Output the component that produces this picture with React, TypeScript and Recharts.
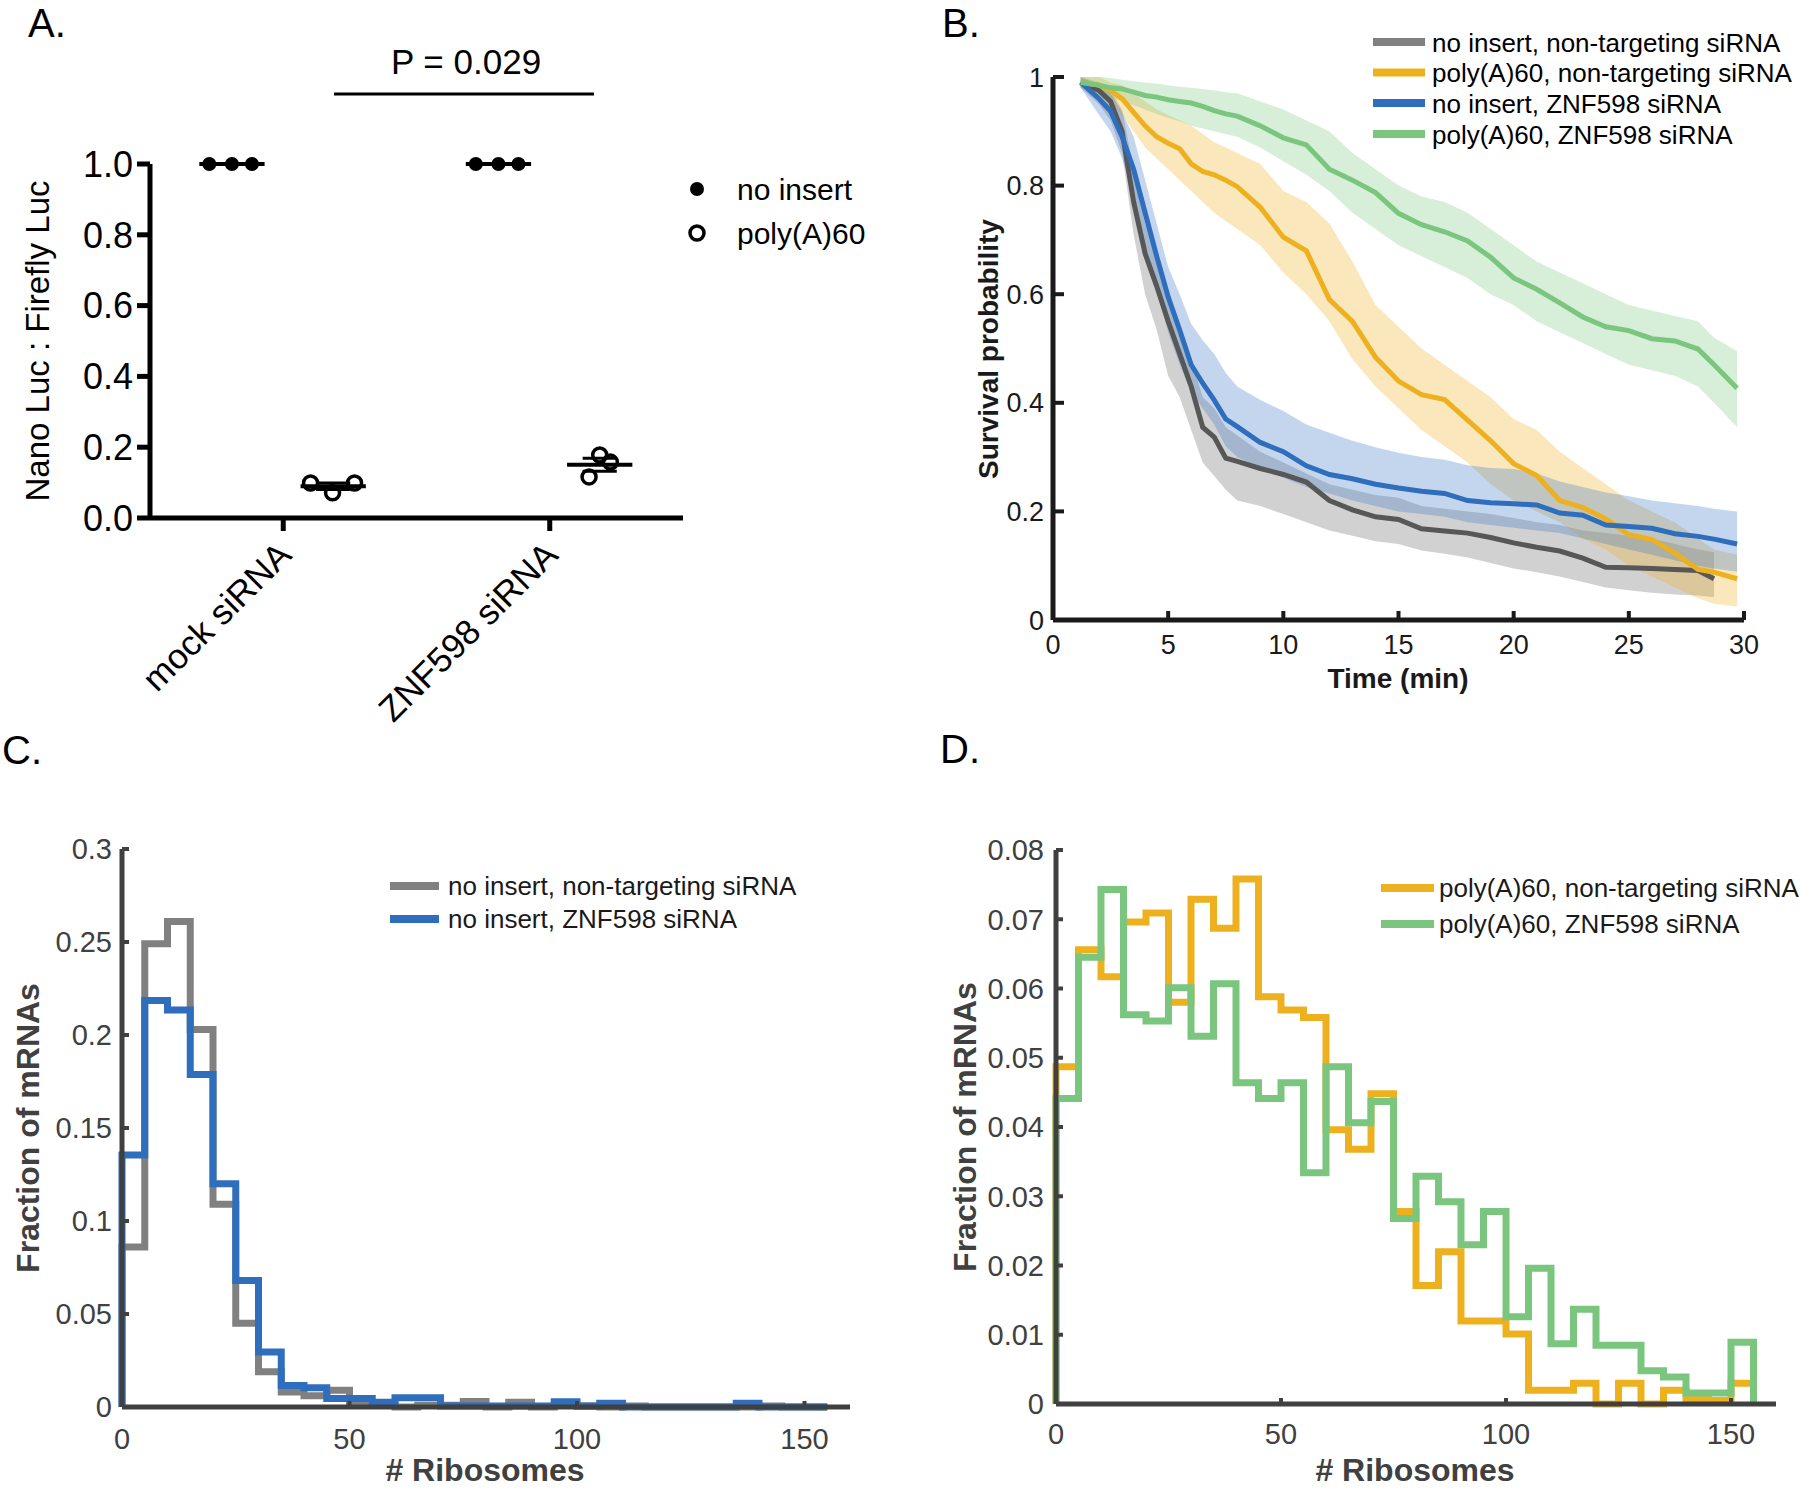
import React from "react";
import {
  ComposedChart,
  Line,
  Area,
  Scatter,
  XAxis,
  YAxis,
  ReferenceLine,
} from "recharts";

// ---------- panel A: luciferase ratio, 3 replicates per condition
const siRNAs = ["mock siRNA", "ZNF598 siRNA"];
const noInsertRatio = [
  [1.0, 1.0, 1.0],
  [1.0, 1.0, 1.0],
];
const polyARatio = [
  [0.099, 0.071, 0.099],
  [0.116, 0.178, 0.158],
];
const pValueText = "P = 0.029";
const ratioTicks = [0, 0.2, 0.4, 0.6, 0.8, 1.0];

// ---------- panel B: survival curves with confidence bands
const timeMin = [1.2, 2, 2.5, 3, 3.5, 4, 4.5, 5, 5.5, 6, 6.5, 7, 7.5, 8, 9, 10, 11, 12, 13, 14, 15, 16, 17, 18, 19, 20, 21, 22, 23, 24, 25, 26, 27, 28, 28.7, 29.7];

const greySurv = [0.99, 0.975, 0.955, 0.9, 0.77, 0.675, 0.615, 0.55, 0.49, 0.43, 0.355, 0.337, 0.298, 0.292, 0.279, 0.268, 0.254, 0.22, 0.203, 0.19, 0.185, 0.168, 0.164, 0.16, 0.152, 0.142, 0.134, 0.127, 0.114, 0.097, 0.096, 0.095, 0.093, 0.091, 0.076, null];
const greyLow = [0.98, 0.95, 0.92, 0.86, 0.71, 0.6, 0.535, 0.45, 0.41, 0.35, 0.29, 0.265, 0.24, 0.22, 0.21, 0.195, 0.18, 0.165, 0.155, 0.145, 0.14, 0.128, 0.122, 0.115, 0.105, 0.095, 0.088, 0.08, 0.07, 0.06, 0.055, 0.05, 0.047, 0.045, 0.042, null];
const greyHigh = [1.0, 0.99, 0.975, 0.94, 0.83, 0.73, 0.67, 0.6, 0.54, 0.48, 0.41, 0.39, 0.355, 0.34, 0.31, 0.29, 0.27, 0.25, 0.24, 0.23, 0.225, 0.21, 0.205, 0.2, 0.195, 0.188, 0.18, 0.175, 0.165, 0.16, 0.155, 0.15, 0.14, 0.13, 0.125, null];

const orangeSurv = [0.99, 0.985, 0.975, 0.96, 0.935, 0.91, 0.89, 0.878, 0.868, 0.84, 0.826, 0.82, 0.81, 0.798, 0.76, 0.705, 0.68, 0.59, 0.55, 0.484, 0.44, 0.415, 0.406, 0.368, 0.33, 0.288, 0.266, 0.22, 0.207, 0.186, 0.157, 0.148, 0.123, 0.093, 0.088, 0.076];
const orangeLow = [0.98, 0.97, 0.955, 0.93, 0.9, 0.87, 0.85, 0.83, 0.81, 0.79, 0.77, 0.75, 0.735, 0.72, 0.69, 0.64, 0.6, 0.55, 0.48, 0.43, 0.39, 0.35, 0.32, 0.29, 0.25, 0.22, 0.2, 0.18, 0.15, 0.13, 0.1, 0.08, 0.06, 0.04, 0.03, 0.025];
const orangeHigh = [1.0, 1.0, 0.99, 0.985, 0.97, 0.955, 0.94, 0.93, 0.92, 0.91, 0.895, 0.88, 0.87, 0.86, 0.84, 0.79, 0.77, 0.73, 0.66, 0.58, 0.54, 0.5, 0.47, 0.44, 0.41, 0.37, 0.35, 0.31, 0.28, 0.25, 0.22, 0.2, 0.18, 0.15, 0.13, 0.12];

const blueSurv = [0.99, 0.96, 0.937, 0.89, 0.83, 0.75, 0.67, 0.595, 0.534, 0.47, 0.436, 0.405, 0.37, 0.356, 0.327, 0.31, 0.284, 0.268, 0.26, 0.25, 0.243, 0.237, 0.233, 0.22, 0.216, 0.214, 0.212, 0.197, 0.193, 0.175, 0.172, 0.169, 0.159, 0.154, 0.149, 0.14];
const blueLow = [0.98, 0.93, 0.9, 0.85, 0.78, 0.69, 0.61, 0.53, 0.47, 0.42, 0.39, 0.36, 0.32, 0.3, 0.28, 0.262, 0.245, 0.233, 0.22, 0.21, 0.2, 0.195, 0.19, 0.18, 0.175, 0.17, 0.165, 0.16, 0.15, 0.14, 0.13, 0.12, 0.11, 0.1, 0.095, 0.089];
const blueHigh = [1.0, 0.985, 0.97, 0.935, 0.89, 0.81, 0.73, 0.65, 0.6, 0.545, 0.515, 0.49, 0.455, 0.43, 0.405, 0.385, 0.36, 0.345, 0.33, 0.318, 0.308, 0.3, 0.295, 0.285, 0.28, 0.278, 0.27, 0.255, 0.245, 0.235, 0.228, 0.22, 0.215, 0.21, 0.205, 0.2];

const greenSurv = [0.99, 0.985, 0.98, 0.978, 0.972, 0.966, 0.963, 0.958, 0.955, 0.952, 0.946, 0.938, 0.932, 0.928, 0.91, 0.888, 0.875, 0.83, 0.81, 0.787, 0.749, 0.728, 0.715, 0.698, 0.668, 0.63, 0.609, 0.584, 0.558, 0.54, 0.533, 0.518, 0.514, 0.499, 0.47, 0.427];
const greenLow = [0.98, 0.97, 0.962, 0.955, 0.948, 0.94, 0.932, 0.925, 0.918, 0.91, 0.905, 0.9, 0.895, 0.89, 0.87, 0.845, 0.82, 0.79, 0.75, 0.72, 0.69, 0.67, 0.65, 0.63, 0.6, 0.58, 0.55, 0.53, 0.51, 0.49, 0.47, 0.46, 0.45, 0.43, 0.4, 0.355];
const greenHigh = [1.0, 1.0, 0.998, 0.995, 0.992, 0.99, 0.988, 0.985, 0.982, 0.98, 0.978, 0.975, 0.972, 0.97, 0.955, 0.94, 0.92, 0.9, 0.86, 0.83, 0.8, 0.78, 0.77, 0.75, 0.72, 0.69, 0.66, 0.64, 0.62, 0.6, 0.58, 0.57, 0.56, 0.55, 0.52, 0.495];

const timeTicks = [0, 5, 10, 15, 20, 25, 30];
const survTicks = [0, 0.2, 0.4, 0.6, 0.8, 1];

// ---------- panels C and D: ribosome-count histograms (bin width 5)
const binStart = [0, 5, 10, 15, 20, 25, 30, 35, 40, 45, 50, 55, 60, 65, 70, 75, 80, 85, 90, 95, 100, 105, 110, 115, 120, 125, 130, 135, 140, 145, 150];
const binWidth = 5;

const noInsertNT = [0.086, 0.249, 0.261, 0.203, 0.109, 0.045, 0.019, 0.008, 0.006, 0.009, 0.002, 0.001, 0, 0.001, 0.001, 0.003, 0, 0.0025, 0, 0.001, 0.0005, 0, 0.0005, 0, 0, 0, 0, 0, 0.0005, 0, 0];
const noInsertZNF = [0.1355, 0.2185, 0.2134, 0.1787, 0.12, 0.068, 0.0296, 0.0116, 0.0103, 0.0046, 0.0046, 0.0025, 0.005, 0.005, 0.0005, 0.0005, 0.0005, 0.0005, 0.0005, 0.0028, 0.0005, 0.002, 0, 0, 0, 0, 0, 0.002, 0, 0, 0];

const polyANT = [0.0487, 0.0656, 0.0617, 0.0696, 0.0709, 0.058, 0.0729, 0.0687, 0.0758, 0.0588, 0.0569, 0.0558, 0.0396, 0.0368, 0.0448, 0.0278, 0.0171, 0.022, 0.012, 0.012, 0.0101, 0.002, 0.002, 0.003, 0, 0.003, 0, 0.002, 0.0007, 0.0005, 0.003];
const polyAZNF = [0.0441, 0.0645, 0.0743, 0.0562, 0.0553, 0.0601, 0.0531, 0.0607, 0.0464, 0.0441, 0.0464, 0.0334, 0.0487, 0.0406, 0.0437, 0.0268, 0.0329, 0.0292, 0.023, 0.0278, 0.0126, 0.0196, 0.0087, 0.0137, 0.0085, 0.0085, 0.0048, 0.0039, 0.0016, 0.0016, 0.0089];

const ribTicks = [0, 50, 100, 150];
const fracTicksC = [0, 0.05, 0.1, 0.15, 0.2, 0.25, 0.3];
const fracTicksD = [0, 0.01, 0.02, 0.03, 0.04, 0.05, 0.06, 0.07, 0.08];

// ---------- colours
const GREY = "#575757";
const GREY_LEGEND = "#808080";
const ORANGE = "#EDB120";
const BLUE = "#2F6DBD";
const GREEN = "#7AC67E";
const AXIS_DARK = "#404040";
const FONT = "'Liberation Sans', Arial, sans-serif";

// ---------- helpers
const groupX = [1, 3];
const noInsertOffset = -0.385;
const polyOffset = 0.375;
const jitterNoInsert = [-0.17, 0, 0.15];
const jitterPoly = [
  [-0.17, -0.005, 0.16],
  [-0.08, 0, 0.08],
];

function mean(a: number[]) {
  return a.reduce((s, v) => s + v, 0) / a.length;
}
function sem(a: number[]) {
  const m = mean(a);
  const sd = Math.sqrt(a.reduce((s, v) => s + (v - m) * (v - m), 0) / (a.length - 1));
  return sd / Math.sqrt(a.length);
}

const noInsertPts = noInsertRatio.flatMap((vals, g) =>
  vals.map((v, i) => ({ x: groupX[g] + noInsertOffset + jitterNoInsert[i], y: v }))
);
const polyPts = polyARatio.flatMap((vals, g) =>
  vals.map((v, i) => ({ x: groupX[g] + polyOffset + jitterPoly[g][i], y: v }))
);

const survRows = timeMin.map((t, i) => ({
  t,
  grey: greySurv[i],
  greyBand: greyLow[i] == null ? null : [greyLow[i], greyHigh[i]],
  orange: orangeSurv[i],
  orangeBand: [orangeLow[i], orangeHigh[i]],
  blue: blueSurv[i],
  blueBand: [blueLow[i], blueHigh[i]],
  green: greenSurv[i],
  greenBand: [greenLow[i], greenHigh[i]],
}));

// outline of a histogram drawn as stairs: rise at 0, step each bin, drop at the end
function stairRows(series: Record<string, number[]>) {
  const names = Object.keys(series);
  const rows: any[] = [];
  const first: any = { x: binStart[0] };
  names.forEach((n) => (first[n] = 0));
  rows.push(first);
  binStart.forEach((b, i) => {
    const r: any = { x: b };
    names.forEach((n) => (r[n] = series[n][i]));
    rows.push(r);
  });
  const last: any = { x: binStart[binStart.length - 1] + binWidth };
  names.forEach((n) => (last[n] = 0));
  rows.push(last);
  return rows;
}

const rowsC = stairRows({ nt: noInsertNT, znf: noInsertZNF });
const rowsD = stairRows({ nt: polyANT, znf: polyAZNF });

function SiRNATick(props: any) {
  const { x, y, payload } = props;
  const idx = groupX.indexOf(payload.value);
  const ax = x + 10;
  const ay = y + 22;
  return (
    <text
      x={ax}
      y={ay}
      transform={`rotate(-45 ${ax} ${ay})`}
      textAnchor="end"
      fontSize={35}
      fill="#000"
      fontFamily={FONT}
    >
      {siRNAs[idx]}
    </text>
  );
}

const filledDot = (p: any) => <circle cx={p.cx} cy={p.cy} r={7} fill="#000" />;
const openDot = (p: any) => (
  <circle cx={p.cx} cy={p.cy} r={7} fill="none" stroke="#000" strokeWidth={3.5} />
);

function PanelA() {
  const segs: { x1: number; x2: number; y: number; w: number }[] = [];
  noInsertRatio.forEach((vals, g) => {
    const c = groupX[g] + noInsertOffset;
    segs.push({ x1: c - 0.245, x2: c + 0.245, y: mean(vals), w: 4 });
  });
  polyARatio.forEach((vals, g) => {
    const c = groupX[g] + polyOffset;
    const m = mean(vals);
    const e = sem(vals);
    segs.push({ x1: c - 0.245, x2: c + 0.245, y: m, w: 4 });
    segs.push({ x1: c - 0.128, x2: c + 0.128, y: m + e, w: 3 });
    segs.push({ x1: c - 0.128, x2: c + 0.128, y: m - e, w: 3 });
  });
  return (
    <ComposedChart
      width={870}
      height={735}
      margin={{ top: 164, right: 187, bottom: 67, left: 70 }}
      style={{ overflow: "visible" }}
    >
      <XAxis
        type="number"
        dataKey="x"
        domain={[0, 4]}
        ticks={groupX}
        interval={0}
        allowDataOverflow
        height={150}
        tickSize={13}
        tickMargin={4}
        tick={<SiRNATick />}
        axisLine={{ stroke: "#000", strokeWidth: 5 }}
        tickLine={{ stroke: "#000", strokeWidth: 5 }}
      />
      <YAxis
        type="number"
        dataKey="y"
        domain={[0, 1]}
        ticks={ratioTicks}
        interval={0}
        width={80}
        tickSize={13}
        tickMargin={4}
        tickFormatter={(v: number) => v.toFixed(1)}
        tick={{ fontSize: 36, fill: "#000", fontFamily: FONT }}
        axisLine={{ stroke: "#000", strokeWidth: 5 }}
        tickLine={{ stroke: "#000", strokeWidth: 5 }}
      />
      {segs.map((s, i) => (
        <ReferenceLine
          key={i}
          segment={[
            { x: s.x1, y: s.y },
            { x: s.x2, y: s.y },
          ]}
          stroke="#000"
          strokeWidth={s.w}
          ifOverflow="visible"
        />
      ))}
      <Scatter data={noInsertPts} shape={filledDot} isAnimationActive={false} />
      <Scatter data={polyPts} shape={openDot} isAnimationActive={false} />
    </ComposedChart>
  );
}

function PanelB() {
  const series = [
    { key: "grey", color: GREY, band: "#8c8c8c", op: 0.4 },
    { key: "orange", color: ORANGE, band: ORANGE, op: 0.3 },
    { key: "blue", color: BLUE, band: "#3d77c7", op: 0.3 },
    { key: "green", color: GREEN, band: GREEN, op: 0.3 },
  ];
  return (
    <ComposedChart width={870} height={720} data={survRows} margin={{ top: 77, right: 56, bottom: 50, left: 43 }}>
      <XAxis
        type="number"
        dataKey="t"
        domain={[0, 30]}
        ticks={timeTicks}
        interval={0}
        height={50}
        tickSize={-9}
        tickMargin={24}
        tick={{ fontSize: 27, fill: "#1a1a1a", fontFamily: FONT }}
        axisLine={{ stroke: "#1a1a1a", strokeWidth: 5 }}
        tickLine={{ stroke: "#1a1a1a", strokeWidth: 4 }}
      />
      <YAxis
        type="number"
        domain={[0, 1]}
        ticks={survTicks}
        interval={0}
        width={80}
        tickSize={-11}
        tickMargin={20}
        tickFormatter={(v: number) => String(v)}
        tick={{ fontSize: 27, fill: "#1a1a1a", fontFamily: FONT }}
        axisLine={{ stroke: "#1a1a1a", strokeWidth: 5 }}
        tickLine={{ stroke: "#1a1a1a", strokeWidth: 4 }}
      />
      {series.flatMap((s) => [
        <Area
          key={s.key + "Band"}
          type="linear"
          dataKey={s.key + "Band"}
          stroke="none"
          fill={s.band}
          fillOpacity={s.op}
          isAnimationActive={false}
        />,
        <Line
          key={s.key}
          type="linear"
          dataKey={s.key}
          stroke={s.color}
          strokeWidth={5}
          dot={false}
          isAnimationActive={false}
        />,
      ])}
    </ComposedChart>
  );
}

function HistPanel(props: {
  rows: any[];
  colors: [string, string];
  ticks: number[];
  yMax: number;
  width: number;
  margin: { top: number; right: number; bottom: number; left: number };
  xTickMargin: number;
  yTickMargin: number;
}) {
  const { rows, colors, ticks, yMax, width, margin } = props;
  return (
    <ComposedChart width={width} height={750} data={rows} margin={margin}>
      <XAxis
        type="number"
        dataKey="x"
        domain={[0, 160]}
        ticks={ribTicks}
        interval={0}
        height={50}
        tickSize={-6}
        tickMargin={props.xTickMargin}
        tick={{ fontSize: 29, fill: AXIS_DARK, fontFamily: FONT }}
        axisLine={{ stroke: AXIS_DARK, strokeWidth: 5 }}
        tickLine={{ stroke: AXIS_DARK, strokeWidth: 4 }}
      />
      <YAxis
        type="number"
        domain={[0, yMax]}
        ticks={ticks}
        interval={0}
        width={80}
        tickSize={-7}
        tickMargin={props.yTickMargin}
        tickFormatter={(v: number) => String(v)}
        tick={{ fontSize: 29, fill: AXIS_DARK, fontFamily: FONT }}
        axisLine={{ stroke: AXIS_DARK, strokeWidth: 5 }}
        tickLine={{ stroke: AXIS_DARK, strokeWidth: 4 }}
      />
      <Line type="stepAfter" dataKey="nt" stroke={colors[0]} strokeWidth={7} dot={false} isAnimationActive={false} />
      <Line type="stepAfter" dataKey="znf" stroke={colors[1]} strokeWidth={7} dot={false} isAnimationActive={false} />
    </ComposedChart>
  );
}

function Overlay() {
  const legB = [
    { c: GREY_LEGEND, t: "no insert, non-targeting siRNA" },
    { c: ORANGE, t: "poly(A)60, non-targeting siRNA" },
    { c: BLUE, t: "no insert, ZNF598 siRNA" },
    { c: GREEN, t: "poly(A)60, ZNF598 siRNA" },
  ];
  const rowsB = [42, 72.5, 103, 134];
  return (
    <svg
      width={1800}
      height={1490}
      style={{ position: "absolute", left: 0, top: 0, pointerEvents: "none" }}
      fontFamily={FONT}
    >
      {/* panel letters */}
      <text x={28} y={37} fontSize={40} fill="#000">A.</text>
      <text x={942} y={37} fontSize={40} fill="#000">B.</text>
      <text x={2} y={764} fontSize={40} fill="#000">C.</text>
      <text x={940} y={763} fontSize={40} fill="#000">D.</text>

      {/* panel A extras */}
      <text x={466} y={74} fontSize={35} textAnchor="middle" fill="#000">{pValueText}</text>
      <line x1={334} x2={594} y1={94} y2={94} stroke="#000" strokeWidth={3} />
      <circle cx={697} cy={189} r={7} fill="#000" />
      <circle cx={697} cy={233} r={7} fill="none" stroke="#000" strokeWidth={3.5} />
      <text x={737} y={200} fontSize={30} fill="#000">no insert</text>
      <text x={737} y={244} fontSize={30} fill="#000">poly(A)60</text>
      <text
        x={37}
        y={341}
        fontSize={33}
        fill="#000"
        textAnchor="middle"
        dominantBaseline="central"
        transform="rotate(-90 37 341)"
      >
        Nano Luc : Firefly Luc
      </text>

      {/* panel B extras */}
      {legB.map((l, i) => (
        <g key={i}>
          <line x1={1373} x2={1425} y1={rowsB[i]} y2={rowsB[i]} stroke={l.c} strokeWidth={8} />
          <text x={1432} y={rowsB[i] + 9.5} fontSize={26} fill="#000">{l.t}</text>
        </g>
      ))}
      <text
        x={988}
        y={349}
        fontSize={28}
        fontWeight="bold"
        fill="#1a1a1a"
        textAnchor="middle"
        dominantBaseline="central"
        transform="rotate(-90 988 349)"
      >
        Survival probability
      </text>
      <text x={1398} y={688} fontSize={28} fontWeight="bold" fill="#1a1a1a" textAnchor="middle">
        Time (min)
      </text>

      {/* panel C extras */}
      <line x1={390} x2={439} y1={886} y2={886} stroke={GREY_LEGEND} strokeWidth={8} />
      <line x1={390} x2={439} y1={919} y2={919} stroke={BLUE} strokeWidth={8} />
      <text x={448} y={895} fontSize={26} fill="#1a1a1a">no insert, non-targeting siRNA</text>
      <text x={448} y={928} fontSize={26} fill="#1a1a1a">no insert, ZNF598 siRNA</text>
      <text
        x={28}
        y={1128}
        fontSize={32}
        fontWeight="bold"
        fill={AXIS_DARK}
        textAnchor="middle"
        dominantBaseline="central"
        transform="rotate(-90 28 1128)"
      >
        Fraction of mRNAs
      </text>
      <text x={485} y={1481} fontSize={32} fontWeight="bold" fill={AXIS_DARK} textAnchor="middle">
        # Ribosomes
      </text>

      {/* panel D extras */}
      <line x1={1381} x2={1434} y1={888} y2={888} stroke={ORANGE} strokeWidth={8} />
      <line x1={1381} x2={1434} y1={924} y2={924} stroke={GREEN} strokeWidth={8} />
      <text x={1439} y={897} fontSize={26} fill="#1a1a1a">poly(A)60, non-targeting siRNA</text>
      <text x={1439} y={933} fontSize={26} fill="#1a1a1a">poly(A)60, ZNF598 siRNA</text>
      <text
        x={965}
        y={1127}
        fontSize={32}
        fontWeight="bold"
        fill={AXIS_DARK}
        textAnchor="middle"
        dominantBaseline="central"
        transform="rotate(-90 965 1127)"
      >
        Fraction of mRNAs
      </text>
      <text x={1415} y={1481} fontSize={32} fontWeight="bold" fill={AXIS_DARK} textAnchor="middle">
        # Ribosomes
      </text>
    </svg>
  );
}

export default function App() {
  return (
    <div
      style={{
        position: "absolute",
        left: 0,
        top: 0,
        width: 1800,
        height: 1490,
        background: "#fff",
        fontFamily: FONT,
        overflow: "hidden",
      }}
    >
      <div style={{ position: "absolute", left: 0, top: 0 }}>
        <PanelA />
      </div>
      <div style={{ position: "absolute", left: 930, top: 0 }}>
        <PanelB />
      </div>
      <div style={{ position: "absolute", left: 0, top: 740 }}>
        <HistPanel
          rows={rowsC}
          colors={[GREY_LEGEND, BLUE]}
          ticks={fracTicksC}
          yMax={0.3}
          width={900}
          margin={{ top: 109, right: 50, bottom: 33, left: 42 }}
          xTickMargin={27}
          yTickMargin={17}
        />
      </div>
      <div style={{ position: "absolute", left: 930, top: 740 }}>
        <HistPanel
          rows={rowsD}
          colors={[ORANGE, GREEN]}
          ticks={fracTicksD}
          yMax={0.08}
          width={870}
          margin={{ top: 110, right: 24, bottom: 36, left: 46 }}
          xTickMargin={25}
          yTickMargin={19}
        />
      </div>
      <Overlay />
    </div>
  );
}
